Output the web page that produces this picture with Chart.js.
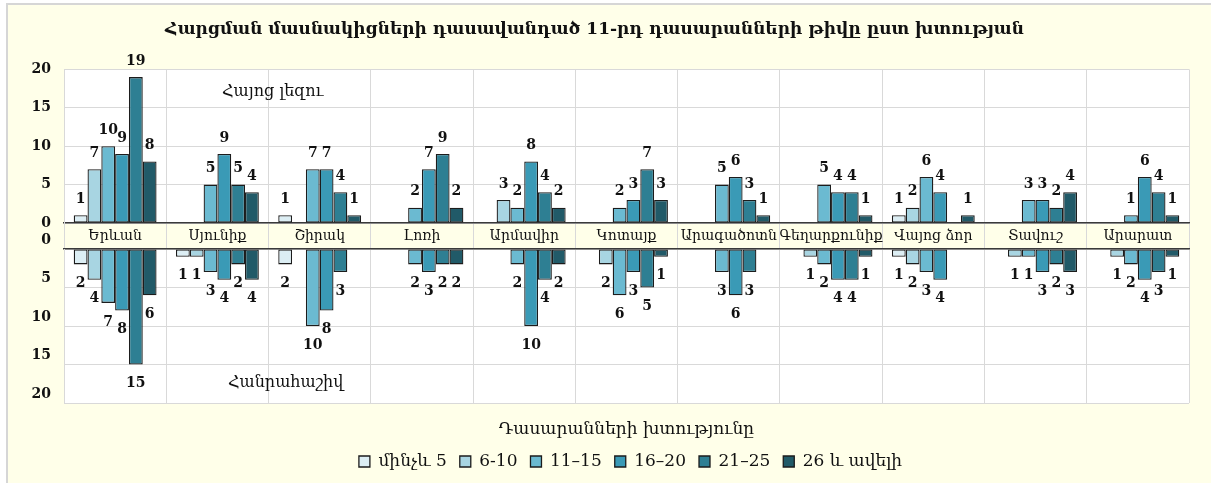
<!DOCTYPE html>
<html>
<head>
<meta charset="utf-8">
<script src="https://cdn.jsdelivr.net/npm/chart.js@4.4.0/dist/chart.umd.min.js"></script>
<style>
  html, body { margin: 0; padding: 0; background: #fff; width: 1211px; height: 483px; overflow: hidden; }
  #frame { position: absolute; left: 6px; top: 3px; width: 1240px; height: 500px; background: #FFFFE9; border: 2px solid #d6d6d6; box-sizing: border-box; }
  canvas { position: absolute; left: 0; }
  #topChart { top: 0; }
  #bottomChart { top: 232px; }
  .panel-note { position: absolute; font-family: "DejaVu Serif", serif; font-size: 16px; color: #111; }
</style>
</head>
<body>
<div id="frame"></div>
<canvas id="topChart" width="1211" height="250"></canvas>
<canvas id="bottomChart" width="1211" height="251"></canvas>
<div class="panel-note" style="left:222px; top:81px;">Հայոց լեզու</div>
<div class="panel-note" style="left:228px; top:372px;">Հանրահաշիվ</div>
<script>
// categories and series (top: Հայոց լեզու, bottom: Հանրահաշիվ)
const regions = ['Երևան', 'Սյունիք', 'Շիրակ', 'Լոռի', 'Արմավիր', 'Կոտայք', 'Արագածոտն', 'Գեղարքունիք', 'Վայոց ձոր', 'Տավուշ', 'Արարատ'];
const groups = ['մինչև 5', '6-10', '11–15', '16–20', '21–25', '26 և ավելի'];
const groupColors = ['#DCEEF4', '#A8D5E2', '#6BBAD1', '#3A9AB6', '#2E7F93', '#215A68'];

// Հայոց լեզու
const langUpTo5 = [1, 0, 1, 0, 0, 0, 0, 0, 1, 0, 0];
const lang6to10 = [7, 0, 0, 0, 3, 0, 0, 0, 2, 0, 0];
const lang11to15 = [10, 5, 7, 2, 2, 2, 5, 5, 6, 3, 1];
const lang16to20 = [9, 9, 7, 7, 8, 3, 6, 4, 4, 3, 6];
const lang21to25 = [19, 5, 4, 9, 4, 7, 3, 4, 0, 2, 4];
const lang26plus = [8, 4, 1, 2, 2, 3, 1, 1, 1, 4, 1];

// Հանրահաշիվ
const algUpTo5 = [2, 1, 2, 0, 0, 0, 0, 0, 1, 0, 0];
const alg6to10 = [4, 1, 0, 0, 0, 2, 0, 1, 2, 1, 1];
const alg11to15 = [7, 3, 10, 2, 2, 6, 3, 2, 3, 1, 2];
const alg16to20 = [8, 4, 8, 3, 10, 3, 6, 4, 4, 3, 4];
const alg21to25 = [15, 2, 3, 2, 4, 5, 3, 4, 0, 2, 3];
const alg26plus = [6, 4, 0, 2, 2, 1, 0, 1, 0, 3, 1];

const yTicks = [0, 5, 10, 15, 20];

const FONT = '"DejaVu Serif", serif';
const GRID = '#d9d9d9';
const INK = '#111';

function makeSets(series) {
  return series.map((data, i) => ({
    label: groups[i],
    data,
    backgroundColor: groupColors[i],
    borderColor: '#1c1c1c',
    borderWidth: c => (c.raw ? 1.3 : 0),
    borderSkipped: false,
    barPercentage: 1,
    categoryPercentage: 0.81
  }));
}

// value labels above / below each bar
const valueLabels = {
  id: 'valueLabels',
  afterDatasetsDraw(chart, args, opts) {
    const ctx = chart.ctx;
    ctx.save();
    ctx.font = 'bold 14px ' + FONT;
    ctx.fillStyle = INK;
    ctx.textAlign = 'center';
    chart.data.datasets.forEach((ds, i) => {
      chart.getDatasetMeta(i).data.forEach((bar, j) => {
        const v = ds.data[j];
        if (!v) return;
        if (opts.below) {
          ctx.textBaseline = 'top';
          ctx.fillText(v, bar.x, bar.y + 12);
        } else {
          ctx.textBaseline = 'bottom';
          ctx.fillText(v, bar.x, bar.y - 9);
        }
      });
    });
    ctx.restore();
  }
};

// white plot area on the yellow chart background
const plotBg = {
  id: 'plotBg',
  beforeDraw(chart) {
    const { ctx, chartArea: a } = chart;
    ctx.save();
    ctx.fillStyle = '#fff';
    ctx.fillRect(a.left, a.top, a.right - a.left, a.bottom - a.top);
    ctx.restore();
  }
};

// nudge the legend box sideways (the original sits a bit right of centre)
const legendShift = {
  id: 'legendShift',
  afterLayout(chart, args, opts) {
    const l = chart.legend;
    if (!l || !opts.dx) return;
    l.left += opts.dx;
    l.right += opts.dx;
  }
};

function yAxis(reverse) {
  return {
    min: 0,
    max: 20,
    reverse,
    afterBuildTicks: s => { s.ticks = yTicks.map(v => ({ value: v })); },
    afterFit: s => { s.width = 64; s.paddingTop = 0; s.paddingBottom = 0; },
    grid: { color: GRID, drawTicks: false },
    border: { color: GRID },
    ticks: {
      padding: 13,
      labelOffset: reverse ? -9 : 0,
      color: INK,
      font: { family: FONT, size: 14, weight: 'bold' }
    }
  };
}

new Chart(document.getElementById('topChart'), {
  type: 'bar',
  data: {
    labels: regions,
    datasets: makeSets([langUpTo5, lang6to10, lang11to15, lang16to20, lang21to25, lang26plus])
  },
  options: {
    responsive: false,
    animation: false,
    layout: { padding: { left: 0, right: 22, top: 0, bottom: 1 } },
    plugins: {
      legend: { display: false },
      tooltip: { enabled: false },
      title: {
        display: true,
        text: 'Հարցման մասնակիցների դասավանդած 11-րդ դասարանների թիվը ըստ խտության',
        color: INK,
        font: { family: FONT, size: 17, weight: 'bold' },
        padding: { top: 19, bottom: 30 }
      },
      valueLabels: { below: false }
    },
    scales: {
      x: {
        afterFit: s => { s.height = 26; s.paddingLeft = 0; s.paddingRight = 0; },
        grid: { color: GRID, offset: true, tickLength: 26 },
        border: { color: '#3a3a3a', width: 1.5 },
        ticks: {
          autoSkip: false,
          maxRotation: 0,
          padding: -21,
          color: INK,
          font: { family: FONT, size: 14 }
        }
      },
      y: yAxis(false)
    }
  },
  plugins: [plotBg, valueLabels]
});

new Chart(document.getElementById('bottomChart'), {
  type: 'bar',
  data: {
    labels: regions,
    datasets: makeSets([algUpTo5, alg6to10, alg11to15, alg16to20, alg21to25, alg26plus])
  },
  options: {
    responsive: false,
    animation: false,
    layout: { padding: { left: 0, right: 22, top: 17, bottom: 3 } },
    plugins: {
      legend: {
        position: 'bottom',
        labels: {
          color: INK,
          boxWidth: 11,
          boxHeight: 11,
          padding: 13,
          font: { family: FONT, size: 17 }
        }
      },
      legendShift: { dx: 36 },
      tooltip: { enabled: false },
      valueLabels: { below: true }
    },
    scales: {
      x: {
        position: 'top',
        afterFit: s => { s.height = 0; s.paddingLeft = 0; s.paddingRight = 0; },
        grid: { color: GRID, offset: true, drawTicks: false },
        border: { color: '#3a3a3a', width: 1.5 },
        ticks: { display: false }
      },
      x2: {
        type: 'category',
        position: 'bottom',
        afterFit: s => { s.height = 37; s.paddingLeft = 0; s.paddingRight = 0; },
        grid: { display: false },
        border: { display: false },
        ticks: { display: false },
        title: {
          display: true,
          text: 'Դասարանների խտությունը',
          color: INK,
          padding: { top: 0, bottom: 0 },
          font: { family: FONT, size: 17 }
        }
      },
      y: yAxis(true)
    }
  },
  plugins: [plotBg, valueLabels, legendShift]
});
</script>
</body>
</html>
